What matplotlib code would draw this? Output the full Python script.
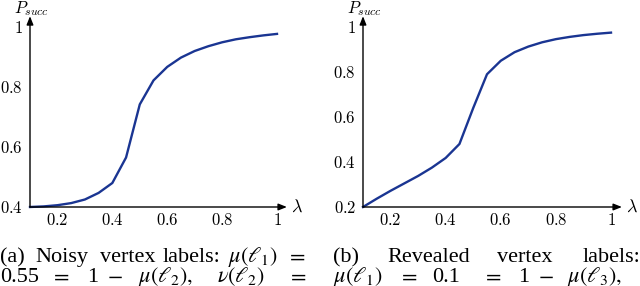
import numpy as np
import matplotlib.pyplot as plt

# lambda values shared by both panels
lam = [0.1, 0.15, 0.2, 0.25, 0.3, 0.35, 0.4, 0.45, 0.5, 0.55,
       0.6, 0.65, 0.7, 0.75, 0.8, 0.85, 0.9, 0.95, 1.0]
# (a) noisy vertex labels
p_noisy = [0.400, 0.402, 0.406, 0.413, 0.425, 0.447, 0.480, 0.565, 0.742, 0.822,
           0.867, 0.898, 0.920, 0.936, 0.949, 0.959, 0.966, 0.972, 0.977]
# (b) revealed vertex labels
p_revealed = [0.200, 0.237, 0.272, 0.305, 0.338, 0.375, 0.418, 0.480, 0.640, 0.790,
              0.850, 0.888, 0.913, 0.932, 0.946, 0.956, 0.964, 0.970, 0.975]

xticks = [0.2, 0.4, 0.6, 0.8, 1.0]
xticklabels = ["0.2", "0.4", "0.6", "0.8", "1"]
yticks_a = [0.4, 0.6, 0.8, 1.0]
yticklabels_a = ["0.4", "0.6", "0.8", "1"]
yticks_b = [0.2, 0.4, 0.6, 0.8, 1.0]
yticklabels_b = ["0.2", "0.4", "0.6", "0.8", "1"]

W, H = 640, 286
plt.rcParams['mathtext.fontset'] = 'cm'
plt.rcParams['font.family'] = 'serif'
plt.rcParams['font.serif'] = ['Liberation Serif', 'DejaVu Serif']

fig = plt.figure(figsize=(W / 100, H / 100), dpi=100)
line_col = '#1a3592'


def px_axes(x0, x1, ytop, ybot):
    return fig.add_axes([x0 / W, 1 - ybot / H, (x1 - x0) / W, (ybot - ytop) / H])


def panel(ax, y, ylo, yt, ytl, xarrow, yarrow, plab_x):
    ax.plot(lam, y, color=line_col, lw=1.7, clip_on=False, zorder=3)
    ax.set_xlim(0.1, 1.0)
    ax.set_ylim(ylo, 1.0)
    for s in ['top', 'right', 'left', 'bottom']:
        ax.spines[s].set_visible(False)
    ax.set_xticks(xticks)
    ax.set_xticklabels(['$' + t + '$' for t in xticklabels], fontsize=12)
    ax.set_yticks(yt)
    ax.set_yticklabels(['$' + t + '$' for t in ytl], fontsize=12)
    ax.tick_params(length=0, pad=4)
    ax.tick_params(axis='y', pad=5)
    ax.annotate('', xy=(xarrow, 0), xytext=(0, 0), xycoords='axes fraction',
                arrowprops=dict(arrowstyle='-|>,head_length=0.5,head_width=0.2',
                                color='black', lw=1.0, shrinkA=0, shrinkB=0))
    ax.annotate('', xy=(0, yarrow), xytext=(0, 0), xycoords='axes fraction',
                arrowprops=dict(arrowstyle='-|>,head_length=0.5,head_width=0.2',
                                color='black', lw=1.0, shrinkA=0, shrinkB=0))
    ax.text(xarrow + 0.018, 0, r'$\lambda$', transform=ax.transAxes,
            fontsize=13, va='center', ha='left')
    fig.text(plab_x / W, 1 - 13 / H, r'$P_{succ}$', fontsize=12,
             va='baseline', ha='left')


ax1 = px_axes(30, 277, 27, 207)
panel(ax1, p_noisy, 0.4, yticks_a, yticklabels_a, 1.04, 1.06, 14)
ax2 = px_axes(363, 611, 27, 207)
panel(ax2, p_revealed, 0.2, yticks_b, yticklabels_b, 1.044, 1.06, 347)

# captions, word by word to mimic justified text
cap = [
    (0, 262, "(a)"), (35, 262, "Noisy"), (100, 262, "vertex"), (163, 262, "labels:"),
    (228, 262, r"$\mu(\ell_1)$"), (286, 262, "$=$"),
    (0, 282, "0.55"), (50, 282, "$=$"), (87, 282, "1"), (107, 282, r"$-$"),
    (138, 282, r"$\mu(\ell_2),$"), (217, 282, r"$\nu(\ell_2)$"), (287, 282, "$=$"),
    (333, 262, "(b)"), (387, 262, "Revealed"), (497, 262, "vertex"), (583, 262, "labels:"),
    (333, 282, r"$\mu(\ell_1)$"), (398, 282, "$=$"), (432, 282, "0.1"), (482, 282, "$=$"),
    (518, 282, "1"), (538, 282, r"$-$"), (567, 282, r"$\mu(\ell_3),$"),
]
for x, y, s in cap:
    fig.text(x / W, 1 - y / H, s, fontsize=16, ha='left', va='baseline',
             math_fontfamily='stix')

fig.savefig('out.png', dpi=100)
